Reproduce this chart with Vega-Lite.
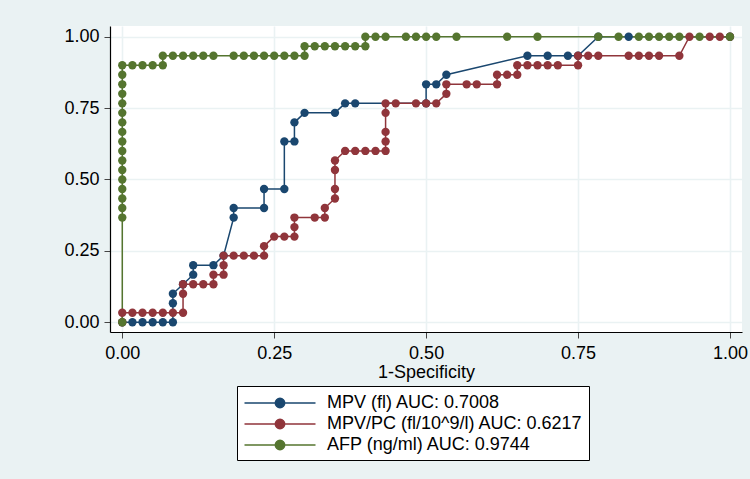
{
  "$schema": "https://vega.github.io/schema/vega-lite/v6.json",
  "autosize": {"type": "none"},
  "width": 632,
  "height": 306,
  "padding": {"left": 110, "top": 26, "right": 8, "bottom": 147},
  "background": "#EAF2F3",
  "view": {"stroke": null, "fill": "white"},
  "config": {
    "font": "Liberation Sans",
    "axis": {"labelFont": "Liberation Sans", "titleFont": "Liberation Sans", "labelColor": "black", "titleColor": "black", "titleFontWeight": "normal", "domainColor": "black", "domainWidth": 1.2, "tickColor": "#444", "tickSize": 6, "gridColor": "#EAF2F3", "gridWidth": 1.6, "labelFontSize": 18, "titleFontSize": 18}
  },
  "data": {"values": [
    {"series": "MPV (fl) AUC: 0.7008", "fpr": 0, "tpr": 0},
    {"series": "MPV (fl) AUC: 0.7008", "fpr": 0.0167, "tpr": 0},
    {"series": "MPV (fl) AUC: 0.7008", "fpr": 0.0333, "tpr": 0},
    {"series": "MPV (fl) AUC: 0.7008", "fpr": 0.05, "tpr": 0},
    {"series": "MPV (fl) AUC: 0.7008", "fpr": 0.0667, "tpr": 0},
    {"series": "MPV (fl) AUC: 0.7008", "fpr": 0.0833, "tpr": 0},
    {"series": "MPV (fl) AUC: 0.7008", "fpr": 0.0833, "tpr": 0.0667},
    {"series": "MPV (fl) AUC: 0.7008", "fpr": 0.0833, "tpr": 0.1},
    {"series": "MPV (fl) AUC: 0.7008", "fpr": 0.1, "tpr": 0.1333},
    {"series": "MPV (fl) AUC: 0.7008", "fpr": 0.1167, "tpr": 0.1667},
    {"series": "MPV (fl) AUC: 0.7008", "fpr": 0.1167, "tpr": 0.2},
    {"series": "MPV (fl) AUC: 0.7008", "fpr": 0.15, "tpr": 0.2},
    {"series": "MPV (fl) AUC: 0.7008", "fpr": 0.1667, "tpr": 0.2333},
    {"series": "MPV (fl) AUC: 0.7008", "fpr": 0.1833, "tpr": 0.3667},
    {"series": "MPV (fl) AUC: 0.7008", "fpr": 0.1833, "tpr": 0.4},
    {"series": "MPV (fl) AUC: 0.7008", "fpr": 0.2333, "tpr": 0.4},
    {"series": "MPV (fl) AUC: 0.7008", "fpr": 0.2333, "tpr": 0.4667},
    {"series": "MPV (fl) AUC: 0.7008", "fpr": 0.2667, "tpr": 0.4667},
    {"series": "MPV (fl) AUC: 0.7008", "fpr": 0.2667, "tpr": 0.6333},
    {"series": "MPV (fl) AUC: 0.7008", "fpr": 0.2833, "tpr": 0.6333},
    {"series": "MPV (fl) AUC: 0.7008", "fpr": 0.2833, "tpr": 0.7},
    {"series": "MPV (fl) AUC: 0.7008", "fpr": 0.3, "tpr": 0.7333},
    {"series": "MPV (fl) AUC: 0.7008", "fpr": 0.35, "tpr": 0.7333},
    {"series": "MPV (fl) AUC: 0.7008", "fpr": 0.3667, "tpr": 0.7667},
    {"series": "MPV (fl) AUC: 0.7008", "fpr": 0.3833, "tpr": 0.7667},
    {"series": "MPV (fl) AUC: 0.7008", "fpr": 0.5, "tpr": 0.7667},
    {"series": "MPV (fl) AUC: 0.7008", "fpr": 0.5, "tpr": 0.8333},
    {"series": "MPV (fl) AUC: 0.7008", "fpr": 0.5167, "tpr": 0.8333},
    {"series": "MPV (fl) AUC: 0.7008", "fpr": 0.5333, "tpr": 0.8667},
    {"series": "MPV (fl) AUC: 0.7008", "fpr": 0.6667, "tpr": 0.9333},
    {"series": "MPV (fl) AUC: 0.7008", "fpr": 0.7, "tpr": 0.9333},
    {"series": "MPV (fl) AUC: 0.7008", "fpr": 0.7333, "tpr": 0.9333},
    {"series": "MPV (fl) AUC: 0.7008", "fpr": 0.75, "tpr": 0.9333},
    {"series": "MPV (fl) AUC: 0.7008", "fpr": 0.7833, "tpr": 1},
    {"series": "MPV (fl) AUC: 0.7008", "fpr": 0.8333, "tpr": 1},
    {"series": "MPV (fl) AUC: 0.7008", "fpr": 1, "tpr": 1},
    {"series": "MPV/PC (fl/10^9/l) AUC: 0.6217", "fpr": 0, "tpr": 0},
    {"series": "MPV/PC (fl/10^9/l) AUC: 0.6217", "fpr": 0, "tpr": 0.0333},
    {"series": "MPV/PC (fl/10^9/l) AUC: 0.6217", "fpr": 0.0167, "tpr": 0.0333},
    {"series": "MPV/PC (fl/10^9/l) AUC: 0.6217", "fpr": 0.0333, "tpr": 0.0333},
    {"series": "MPV/PC (fl/10^9/l) AUC: 0.6217", "fpr": 0.05, "tpr": 0.0333},
    {"series": "MPV/PC (fl/10^9/l) AUC: 0.6217", "fpr": 0.0667, "tpr": 0.0333},
    {"series": "MPV/PC (fl/10^9/l) AUC: 0.6217", "fpr": 0.0833, "tpr": 0.0333},
    {"series": "MPV/PC (fl/10^9/l) AUC: 0.6217", "fpr": 0.1, "tpr": 0.0333},
    {"series": "MPV/PC (fl/10^9/l) AUC: 0.6217", "fpr": 0.1, "tpr": 0.1},
    {"series": "MPV/PC (fl/10^9/l) AUC: 0.6217", "fpr": 0.1, "tpr": 0.1333},
    {"series": "MPV/PC (fl/10^9/l) AUC: 0.6217", "fpr": 0.1167, "tpr": 0.1333},
    {"series": "MPV/PC (fl/10^9/l) AUC: 0.6217", "fpr": 0.1333, "tpr": 0.1333},
    {"series": "MPV/PC (fl/10^9/l) AUC: 0.6217", "fpr": 0.15, "tpr": 0.1333},
    {"series": "MPV/PC (fl/10^9/l) AUC: 0.6217", "fpr": 0.15, "tpr": 0.1667},
    {"series": "MPV/PC (fl/10^9/l) AUC: 0.6217", "fpr": 0.1667, "tpr": 0.1667},
    {"series": "MPV/PC (fl/10^9/l) AUC: 0.6217", "fpr": 0.1667, "tpr": 0.2},
    {"series": "MPV/PC (fl/10^9/l) AUC: 0.6217", "fpr": 0.1667, "tpr": 0.2333},
    {"series": "MPV/PC (fl/10^9/l) AUC: 0.6217", "fpr": 0.1833, "tpr": 0.2333},
    {"series": "MPV/PC (fl/10^9/l) AUC: 0.6217", "fpr": 0.2, "tpr": 0.2333},
    {"series": "MPV/PC (fl/10^9/l) AUC: 0.6217", "fpr": 0.2167, "tpr": 0.2333},
    {"series": "MPV/PC (fl/10^9/l) AUC: 0.6217", "fpr": 0.2333, "tpr": 0.2333},
    {"series": "MPV/PC (fl/10^9/l) AUC: 0.6217", "fpr": 0.2333, "tpr": 0.2667},
    {"series": "MPV/PC (fl/10^9/l) AUC: 0.6217", "fpr": 0.25, "tpr": 0.3},
    {"series": "MPV/PC (fl/10^9/l) AUC: 0.6217", "fpr": 0.2667, "tpr": 0.3},
    {"series": "MPV/PC (fl/10^9/l) AUC: 0.6217", "fpr": 0.2833, "tpr": 0.3},
    {"series": "MPV/PC (fl/10^9/l) AUC: 0.6217", "fpr": 0.2833, "tpr": 0.3333},
    {"series": "MPV/PC (fl/10^9/l) AUC: 0.6217", "fpr": 0.2833, "tpr": 0.3667},
    {"series": "MPV/PC (fl/10^9/l) AUC: 0.6217", "fpr": 0.3167, "tpr": 0.3667},
    {"series": "MPV/PC (fl/10^9/l) AUC: 0.6217", "fpr": 0.3333, "tpr": 0.3667},
    {"series": "MPV/PC (fl/10^9/l) AUC: 0.6217", "fpr": 0.3333, "tpr": 0.4},
    {"series": "MPV/PC (fl/10^9/l) AUC: 0.6217", "fpr": 0.35, "tpr": 0.4333},
    {"series": "MPV/PC (fl/10^9/l) AUC: 0.6217", "fpr": 0.35, "tpr": 0.4667},
    {"series": "MPV/PC (fl/10^9/l) AUC: 0.6217", "fpr": 0.35, "tpr": 0.5333},
    {"series": "MPV/PC (fl/10^9/l) AUC: 0.6217", "fpr": 0.35, "tpr": 0.5667},
    {"series": "MPV/PC (fl/10^9/l) AUC: 0.6217", "fpr": 0.3667, "tpr": 0.6},
    {"series": "MPV/PC (fl/10^9/l) AUC: 0.6217", "fpr": 0.3833, "tpr": 0.6},
    {"series": "MPV/PC (fl/10^9/l) AUC: 0.6217", "fpr": 0.4, "tpr": 0.6},
    {"series": "MPV/PC (fl/10^9/l) AUC: 0.6217", "fpr": 0.4167, "tpr": 0.6},
    {"series": "MPV/PC (fl/10^9/l) AUC: 0.6217", "fpr": 0.4333, "tpr": 0.6},
    {"series": "MPV/PC (fl/10^9/l) AUC: 0.6217", "fpr": 0.4333, "tpr": 0.6333},
    {"series": "MPV/PC (fl/10^9/l) AUC: 0.6217", "fpr": 0.4333, "tpr": 0.6667},
    {"series": "MPV/PC (fl/10^9/l) AUC: 0.6217", "fpr": 0.4333, "tpr": 0.7333},
    {"series": "MPV/PC (fl/10^9/l) AUC: 0.6217", "fpr": 0.4333, "tpr": 0.7667},
    {"series": "MPV/PC (fl/10^9/l) AUC: 0.6217", "fpr": 0.45, "tpr": 0.7667},
    {"series": "MPV/PC (fl/10^9/l) AUC: 0.6217", "fpr": 0.4833, "tpr": 0.7667},
    {"series": "MPV/PC (fl/10^9/l) AUC: 0.6217", "fpr": 0.5, "tpr": 0.7667},
    {"series": "MPV/PC (fl/10^9/l) AUC: 0.6217", "fpr": 0.5167, "tpr": 0.7667},
    {"series": "MPV/PC (fl/10^9/l) AUC: 0.6217", "fpr": 0.5333, "tpr": 0.8},
    {"series": "MPV/PC (fl/10^9/l) AUC: 0.6217", "fpr": 0.5333, "tpr": 0.8333},
    {"series": "MPV/PC (fl/10^9/l) AUC: 0.6217", "fpr": 0.5667, "tpr": 0.8333},
    {"series": "MPV/PC (fl/10^9/l) AUC: 0.6217", "fpr": 0.5833, "tpr": 0.8333},
    {"series": "MPV/PC (fl/10^9/l) AUC: 0.6217", "fpr": 0.6167, "tpr": 0.8333},
    {"series": "MPV/PC (fl/10^9/l) AUC: 0.6217", "fpr": 0.6167, "tpr": 0.8667},
    {"series": "MPV/PC (fl/10^9/l) AUC: 0.6217", "fpr": 0.6333, "tpr": 0.8667},
    {"series": "MPV/PC (fl/10^9/l) AUC: 0.6217", "fpr": 0.65, "tpr": 0.8667},
    {"series": "MPV/PC (fl/10^9/l) AUC: 0.6217", "fpr": 0.65, "tpr": 0.9},
    {"series": "MPV/PC (fl/10^9/l) AUC: 0.6217", "fpr": 0.6667, "tpr": 0.9},
    {"series": "MPV/PC (fl/10^9/l) AUC: 0.6217", "fpr": 0.6833, "tpr": 0.9},
    {"series": "MPV/PC (fl/10^9/l) AUC: 0.6217", "fpr": 0.7, "tpr": 0.9},
    {"series": "MPV/PC (fl/10^9/l) AUC: 0.6217", "fpr": 0.7167, "tpr": 0.9},
    {"series": "MPV/PC (fl/10^9/l) AUC: 0.6217", "fpr": 0.75, "tpr": 0.9},
    {"series": "MPV/PC (fl/10^9/l) AUC: 0.6217", "fpr": 0.75, "tpr": 0.9333},
    {"series": "MPV/PC (fl/10^9/l) AUC: 0.6217", "fpr": 0.7667, "tpr": 0.9333},
    {"series": "MPV/PC (fl/10^9/l) AUC: 0.6217", "fpr": 0.7833, "tpr": 0.9333},
    {"series": "MPV/PC (fl/10^9/l) AUC: 0.6217", "fpr": 0.8333, "tpr": 0.9333},
    {"series": "MPV/PC (fl/10^9/l) AUC: 0.6217", "fpr": 0.85, "tpr": 0.9333},
    {"series": "MPV/PC (fl/10^9/l) AUC: 0.6217", "fpr": 0.8667, "tpr": 0.9333},
    {"series": "MPV/PC (fl/10^9/l) AUC: 0.6217", "fpr": 0.8833, "tpr": 0.9333},
    {"series": "MPV/PC (fl/10^9/l) AUC: 0.6217", "fpr": 0.9167, "tpr": 0.9333},
    {"series": "MPV/PC (fl/10^9/l) AUC: 0.6217", "fpr": 0.9333, "tpr": 1},
    {"series": "MPV/PC (fl/10^9/l) AUC: 0.6217", "fpr": 0.9667, "tpr": 1},
    {"series": "MPV/PC (fl/10^9/l) AUC: 0.6217", "fpr": 0.9833, "tpr": 1},
    {"series": "MPV/PC (fl/10^9/l) AUC: 0.6217", "fpr": 1, "tpr": 1},
    {"series": "AFP (ng/ml) AUC: 0.9744", "fpr": 0, "tpr": 0},
    {"series": "AFP (ng/ml) AUC: 0.9744", "fpr": 0, "tpr": 0.3667},
    {"series": "AFP (ng/ml) AUC: 0.9744", "fpr": 0, "tpr": 0.4},
    {"series": "AFP (ng/ml) AUC: 0.9744", "fpr": 0, "tpr": 0.4333},
    {"series": "AFP (ng/ml) AUC: 0.9744", "fpr": 0, "tpr": 0.4667},
    {"series": "AFP (ng/ml) AUC: 0.9744", "fpr": 0, "tpr": 0.5},
    {"series": "AFP (ng/ml) AUC: 0.9744", "fpr": 0, "tpr": 0.5333},
    {"series": "AFP (ng/ml) AUC: 0.9744", "fpr": 0, "tpr": 0.5667},
    {"series": "AFP (ng/ml) AUC: 0.9744", "fpr": 0, "tpr": 0.6},
    {"series": "AFP (ng/ml) AUC: 0.9744", "fpr": 0, "tpr": 0.6333},
    {"series": "AFP (ng/ml) AUC: 0.9744", "fpr": 0, "tpr": 0.6667},
    {"series": "AFP (ng/ml) AUC: 0.9744", "fpr": 0, "tpr": 0.7},
    {"series": "AFP (ng/ml) AUC: 0.9744", "fpr": 0, "tpr": 0.7333},
    {"series": "AFP (ng/ml) AUC: 0.9744", "fpr": 0, "tpr": 0.7667},
    {"series": "AFP (ng/ml) AUC: 0.9744", "fpr": 0, "tpr": 0.8},
    {"series": "AFP (ng/ml) AUC: 0.9744", "fpr": 0, "tpr": 0.8333},
    {"series": "AFP (ng/ml) AUC: 0.9744", "fpr": 0, "tpr": 0.8667},
    {"series": "AFP (ng/ml) AUC: 0.9744", "fpr": 0, "tpr": 0.9},
    {"series": "AFP (ng/ml) AUC: 0.9744", "fpr": 0.0167, "tpr": 0.9},
    {"series": "AFP (ng/ml) AUC: 0.9744", "fpr": 0.0333, "tpr": 0.9},
    {"series": "AFP (ng/ml) AUC: 0.9744", "fpr": 0.05, "tpr": 0.9},
    {"series": "AFP (ng/ml) AUC: 0.9744", "fpr": 0.0667, "tpr": 0.9},
    {"series": "AFP (ng/ml) AUC: 0.9744", "fpr": 0.0667, "tpr": 0.9333},
    {"series": "AFP (ng/ml) AUC: 0.9744", "fpr": 0.0833, "tpr": 0.9333},
    {"series": "AFP (ng/ml) AUC: 0.9744", "fpr": 0.1, "tpr": 0.9333},
    {"series": "AFP (ng/ml) AUC: 0.9744", "fpr": 0.1167, "tpr": 0.9333},
    {"series": "AFP (ng/ml) AUC: 0.9744", "fpr": 0.1333, "tpr": 0.9333},
    {"series": "AFP (ng/ml) AUC: 0.9744", "fpr": 0.15, "tpr": 0.9333},
    {"series": "AFP (ng/ml) AUC: 0.9744", "fpr": 0.1833, "tpr": 0.9333},
    {"series": "AFP (ng/ml) AUC: 0.9744", "fpr": 0.2, "tpr": 0.9333},
    {"series": "AFP (ng/ml) AUC: 0.9744", "fpr": 0.2167, "tpr": 0.9333},
    {"series": "AFP (ng/ml) AUC: 0.9744", "fpr": 0.2333, "tpr": 0.9333},
    {"series": "AFP (ng/ml) AUC: 0.9744", "fpr": 0.25, "tpr": 0.9333},
    {"series": "AFP (ng/ml) AUC: 0.9744", "fpr": 0.2667, "tpr": 0.9333},
    {"series": "AFP (ng/ml) AUC: 0.9744", "fpr": 0.2833, "tpr": 0.9333},
    {"series": "AFP (ng/ml) AUC: 0.9744", "fpr": 0.3, "tpr": 0.9333},
    {"series": "AFP (ng/ml) AUC: 0.9744", "fpr": 0.3, "tpr": 0.9667},
    {"series": "AFP (ng/ml) AUC: 0.9744", "fpr": 0.3167, "tpr": 0.9667},
    {"series": "AFP (ng/ml) AUC: 0.9744", "fpr": 0.3333, "tpr": 0.9667},
    {"series": "AFP (ng/ml) AUC: 0.9744", "fpr": 0.35, "tpr": 0.9667},
    {"series": "AFP (ng/ml) AUC: 0.9744", "fpr": 0.3667, "tpr": 0.9667},
    {"series": "AFP (ng/ml) AUC: 0.9744", "fpr": 0.3833, "tpr": 0.9667},
    {"series": "AFP (ng/ml) AUC: 0.9744", "fpr": 0.4, "tpr": 0.9667},
    {"series": "AFP (ng/ml) AUC: 0.9744", "fpr": 0.4, "tpr": 1},
    {"series": "AFP (ng/ml) AUC: 0.9744", "fpr": 0.4167, "tpr": 1},
    {"series": "AFP (ng/ml) AUC: 0.9744", "fpr": 0.4333, "tpr": 1},
    {"series": "AFP (ng/ml) AUC: 0.9744", "fpr": 0.4667, "tpr": 1},
    {"series": "AFP (ng/ml) AUC: 0.9744", "fpr": 0.4833, "tpr": 1},
    {"series": "AFP (ng/ml) AUC: 0.9744", "fpr": 0.5, "tpr": 1},
    {"series": "AFP (ng/ml) AUC: 0.9744", "fpr": 0.5167, "tpr": 1},
    {"series": "AFP (ng/ml) AUC: 0.9744", "fpr": 0.55, "tpr": 1},
    {"series": "AFP (ng/ml) AUC: 0.9744", "fpr": 0.6333, "tpr": 1},
    {"series": "AFP (ng/ml) AUC: 0.9744", "fpr": 0.6833, "tpr": 1},
    {"series": "AFP (ng/ml) AUC: 0.9744", "fpr": 0.7833, "tpr": 1},
    {"series": "AFP (ng/ml) AUC: 0.9744", "fpr": 0.8167, "tpr": 1},
    {"series": "AFP (ng/ml) AUC: 0.9744", "fpr": 0.85, "tpr": 1},
    {"series": "AFP (ng/ml) AUC: 0.9744", "fpr": 0.8667, "tpr": 1},
    {"series": "AFP (ng/ml) AUC: 0.9744", "fpr": 0.8833, "tpr": 1},
    {"series": "AFP (ng/ml) AUC: 0.9744", "fpr": 0.9, "tpr": 1},
    {"series": "AFP (ng/ml) AUC: 0.9744", "fpr": 0.9167, "tpr": 1},
    {"series": "AFP (ng/ml) AUC: 0.9744", "fpr": 0.95, "tpr": 1},
    {"series": "AFP (ng/ml) AUC: 0.9744", "fpr": 1, "tpr": 1}
  ]},
  "encoding": {
    "x": {"field": "fpr", "type": "quantitative", "scale": {"domain": [-0.0202, 1.0198], "nice": false, "zero": false},
      "axis": {"values": [0, 0.25, 0.5, 0.75, 1], "format": ".2f", "title": "1-Specificity", "labelPadding": 6, "titlePadding": 1, "grid": true}},
    "y": {"field": "tpr", "type": "quantitative", "scale": {"domain": [-0.034, 1.0375], "nice": false, "zero": false},
      "axis": {"values": [0, 0.25, 0.5, 0.75, 1], "format": ".2f", "title": null, "labelPadding": 5, "grid": true}},
    "color": {"field": "series", "type": "nominal",
      "scale": {"domain": ["MPV (fl) AUC: 0.7008", "MPV/PC (fl/10^9/l) AUC: 0.6217", "AFP (ng/ml) AUC: 0.9744"], "range": ["#1A476F", "#90353B", "#55752F"]},
      "legend": {"orient": "none", "legendX": 127, "legendY": 360, "title": null, "direction": "vertical",
        "symbolType": "M-3.55,0L3.55,0M0.47,0A0.47,0.47,0,1,1,-0.47,0A0.47,0.47,0,1,1,0.47,0Z",
        "symbolSize": 400, "symbolStrokeWidth": 1.5, "symbolOffset": 26, "labelOffset": 36,
        "labelFont": "Liberation Sans", "labelFontSize": 18, "labelColor": "black", "labelLimit": 400,
        "padding": 6, "rowPadding": 1, "strokeColor": "black", "fillColor": "white"}}
  },
  "layer": [
    {"mark": {"type": "line", "strokeWidth": 1.5},
     "encoding": {"order": [{"field": "fpr", "type": "quantitative"}, {"field": "tpr", "type": "quantitative"}]}},
    {"mark": {"type": "point", "filled": true, "opacity": 1, "size": 70, "shape": "circle"}}
  ]
}
